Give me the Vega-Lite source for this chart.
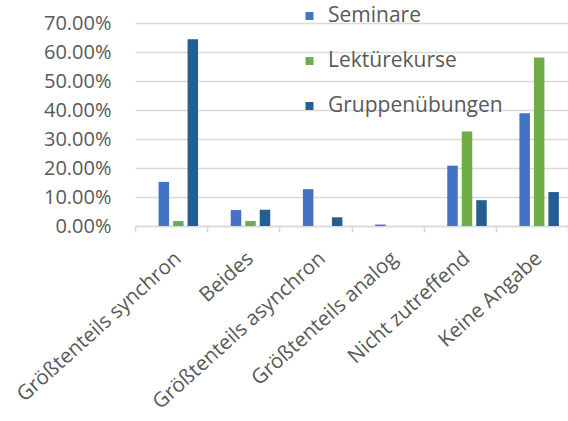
{
  "$schema": "https://vega.github.io/schema/vega-lite/v6.json",
  "width": 433,
  "height": 203,
  "autosize": {"type": "none"},
  "padding": {"left": 135, "top": 23, "right": 0, "bottom": 195},
  "background": "white",
  "config": {"view": {"stroke": null}, "font": "Open Sans"},
  "data": {"values": [
    {"kategorie": "Größtenteils synchron", "serie": "Seminare", "wert": 0.152},
    {"kategorie": "Größtenteils synchron", "serie": "Lektürekurse", "wert": 0.017},
    {"kategorie": "Größtenteils synchron", "serie": "Gruppenübungen", "wert": 0.644},
    {"kategorie": "Beides", "serie": "Seminare", "wert": 0.055},
    {"kategorie": "Beides", "serie": "Lektürekurse", "wert": 0.017},
    {"kategorie": "Beides", "serie": "Gruppenübungen", "wert": 0.056},
    {"kategorie": "Größtenteils asynchron", "serie": "Seminare", "wert": 0.127},
    {"kategorie": "Größtenteils asynchron", "serie": "Lektürekurse", "wert": 0},
    {"kategorie": "Größtenteils asynchron", "serie": "Gruppenübungen", "wert": 0.03},
    {"kategorie": "Größtenteils analog", "serie": "Seminare", "wert": 0.005},
    {"kategorie": "Größtenteils analog", "serie": "Lektürekurse", "wert": 0},
    {"kategorie": "Größtenteils analog", "serie": "Gruppenübungen", "wert": 0},
    {"kategorie": "Nicht zutreffend", "serie": "Seminare", "wert": 0.208},
    {"kategorie": "Nicht zutreffend", "serie": "Lektürekurse", "wert": 0.326},
    {"kategorie": "Nicht zutreffend", "serie": "Gruppenübungen", "wert": 0.089},
    {"kategorie": "Keine Angabe", "serie": "Seminare", "wert": 0.389},
    {"kategorie": "Keine Angabe", "serie": "Lektürekurse", "wert": 0.581},
    {"kategorie": "Keine Angabe", "serie": "Gruppenübungen", "wert": 0.117}
  ]},
  "mark": {"type": "bar"},
  "encoding": {
    "x": {
      "field": "kategorie", "type": "nominal", "sort": null,
      "scale": {"paddingInner": 0, "paddingOuter": 0},
      "axis": {
        "title": null, "labelAngle": -42, "labelFontSize": 20.5, "labelColor": "#595959",
        "domainColor": "#d9d9d9", "domainWidth": 1.5, "tickColor": "#d9d9d9", "tickWidth": 1.5, "tickSize": 6, "tickBand": "extent",
        "labelPadding": 16, "labelDx": -6, "labelLimit": 0, "grid": false
      }
    },
    "xOffset": {
      "field": "serie", "type": "nominal",
      "scale": {"domain": ["_", "Seminare", "Lektürekurse", "Gruppenübungen"], "paddingInner": 0.276, "paddingOuter": 0.628}
    },
    "y": {
      "field": "wert", "type": "quantitative",
      "scale": {"domain": [0, 0.7], "nice": false},
      "axis": {
        "title": null, "format": ".2%", "values": [0, 0.1, 0.2, 0.3, 0.4, 0.5, 0.6, 0.7],
        "labelFontSize": 20, "labelColor": "#595959", "domain": false, "ticks": false,
        "labelPadding": 24, "gridColor": "#d9d9d9", "gridWidth": 1.5
      }
    },
    "color": {
      "field": "serie", "type": "nominal",
      "scale": {"domain": ["Seminare", "Lektürekurse", "Gruppenübungen"], "range": ["#4472C4", "#70AD47", "#255E91"]},
      "legend": {
        "title": null, "orient": "none", "legendX": 164, "legendY": -17.5,
        "symbolType": "square", "symbolSize": 64, "symbolStrokeWidth": 0,
        "labelFontSize": 21, "labelColor": "#595959", "labelOffset": 8, "labelLimit": 0, "rowPadding": 23, "padding": 0
      }
    }
  }
}
